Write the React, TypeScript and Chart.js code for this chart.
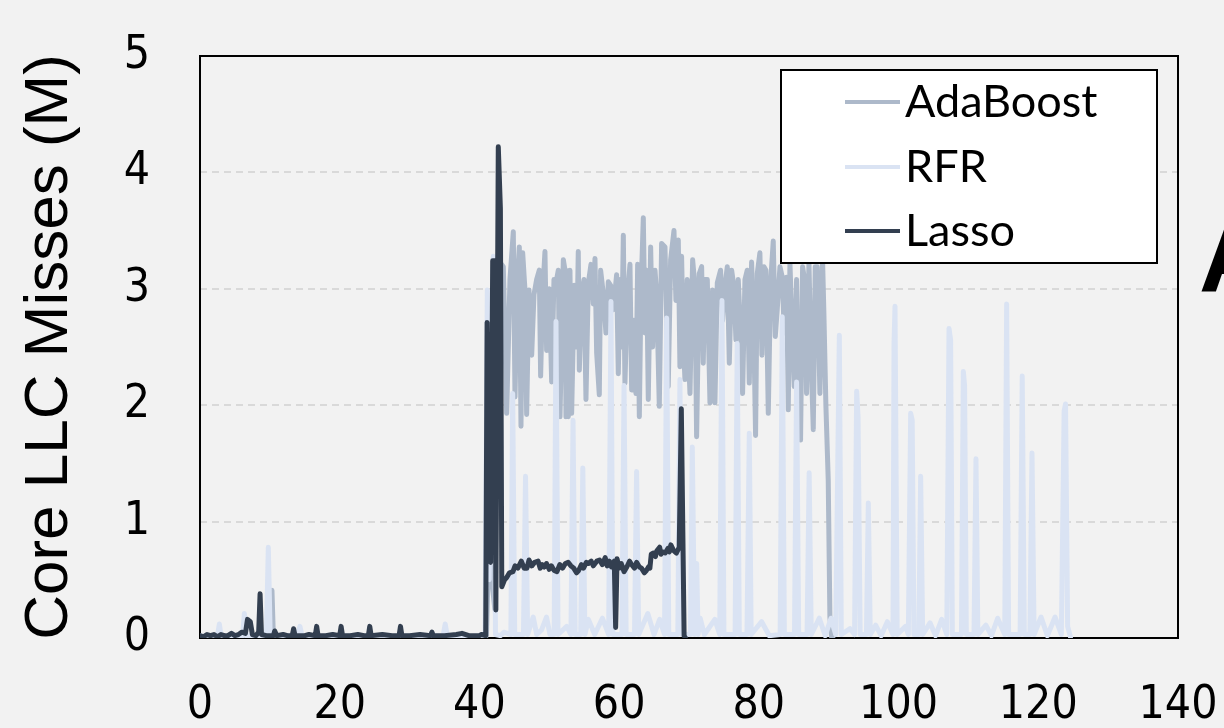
import { useEffect, useRef } from 'react';
import { Chart, registerables } from 'chart.js';

Chart.register(...registerables);

const seriesNames = ['AdaBoost', 'RFR', 'Lasso'];
const seriesColors = ['#adb9ca', '#dae3f3', '#333f50'];
const yTickValues = [0, 1, 2, 3, 4, 5];
const xTickValues = [0, 20, 40, 60, 80, 100, 120, 140];
const yTitle = 'Core LLC Misses (M)';

const adaboost: [number, number][] = [
  [0, 0.01], [5, 0.01], [9.9, 0.01], [10.1, 0.1], [10.3, 0.41], [10.5, 0.02], [15, 0.01], [20, 0.01],
  [25, 0.01], [30, 0.01], [35, 0.01], [40, 0.01], [41.0, 0.02], [41.3, 0.67], [41.6, 0.6], [42.2, 0.25],
  [42.6, 2.95], [42.94, 3.0], [43.18, 3.21], [43.42, 3.19], [43.9, 1.93], [44.37, 3.08], [44.85, 3.49],
  [45.09, 2.07], [45.42, 3.05], [45.71, 3.36], [45.95, 1.82], [46.19, 3.31], [46.52, 2.99], [46.76, 1.92],
  [47.09, 2.99], [47.48, 2.43], [47.81, 2.95], [48.19, 3.08], [48.57, 3.16], [48.76, 2.25], [49.05, 2.96],
  [49.38, 3.32], [49.62, 2.47], [50.0, 3.0], [50.34, 2.2], [50.67, 3.08], [50.96, 3.05], [51.29, 3.16],
  [51.53, 1.9], [52.01, 3.25], [52.25, 3.16], [52.39, 1.9], [52.55, 3.0], [52.72, 1.9], [52.96, 3.16],
  [53.2, 1.93], [53.58, 3.03], [53.92, 2.5], [54.15, 3.32], [54.3, 2.3], [54.63, 2.96], [54.97, 3.08],
  [55.25, 2.05], [55.59, 3.05], [55.97, 3.21], [56.3, 2.87], [56.54, 3.26], [56.78, 2.45], [57.16, 2.09],
  [57.35, 3.16], [57.73, 2.96], [58.11, 2.62], [58.45, 3.06], [58.78, 3.03], [59.16, 2.82], [59.64, 3.12],
  [59.88, 2.27], [60.12, 3.08], [60.36, 2.5], [60.6, 3.46], [60.83, 2.19], [61.17, 2.93], [61.55, 3.21],
  [61.79, 2.13], [62.12, 2.73], [62.41, 2.1], [62.65, 3.21], [62.89, 1.9], [63.12, 2.96], [63.46, 3.61],
  [63.7, 2.62], [63.94, 3.16], [64.17, 2.05], [64.51, 3.36], [64.79, 2.5], [65.13, 3.16], [65.37, 2.96],
  [65.75, 1.99], [66.08, 3.39], [66.56, 3.36], [67.03, 2.16], [67.37, 3.25], [67.85, 3.5], [68.13, 2.9],
  [68.47, 3.42], [68.7, 2.33], [68.94, 3.28], [69.18, 2.56], [69.42, 2.22], [69.75, 3.08], [69.9, 2.47],
  [70.14, 2.1], [70.52, 3.25], [70.85, 3.02], [71.09, 1.73], [71.47, 3.13], [71.81, 3.19], [72.04, 2.36],
  [72.28, 3.08], [72.62, 3.08], [73.0, 2.02], [73.38, 2.99], [73.71, 2.02], [74.05, 3.05], [74.52, 3.16],
  [74.81, 2.73], [75.14, 3.02], [75.48, 3.19], [75.77, 2.36], [76.1, 3.16], [76.43, 3.02], [76.72, 2.56],
  [77.05, 3.08], [77.39, 2.62], [77.67, 2.1], [78.01, 3.08], [78.34, 3.16], [78.63, 2.19], [78.96, 3.23],
  [79.3, 2.56], [79.53, 1.74], [79.77, 3.13], [80.15, 3.31], [80.44, 2.43], [80.73, 3.19], [81.01, 3.16],
  [81.35, 1.93], [81.68, 3.05], [82.06, 3.41], [82.35, 2.59], [82.63, 2.82], [83.02, 3.19], [83.35, 3.1],
  [83.64, 2.62], [83.97, 3.1], [84.21, 1.96], [84.45, 3.22], [84.78, 2.62], [85.07, 2.16], [85.4, 3.08],
  [85.64, 2.19], [85.97, 1.7], [86.26, 3.19], [86.6, 3.05], [86.83, 2.1], [87.17, 3.22], [87.45, 2.47],
  [87.79, 1.79], [88.07, 3.19], [88.36, 3.19], [88.74, 2.1], [89.12, 3.25], [89.31, 2.79], [89.6, 1.99],
  [89.93, 1.36], [90.17, 0.18], [90.41, 0.01], [90.6, 0.01],
];

const rfr: [number, number][] = [
  [0, 0.02], [1, 0.01], [2.5, 0.02], [2.77, 0.12], [3.0, 0.02], [4.5, 0.01], [6.1, 0.02], [6.35, 0.21],
  [6.6, 0.02], [9.5, 0.02], [9.78, 0.78], [10.05, 0.02], [12, 0.01], [14.0, 0.04], [14.3, 0.1], [14.6, 0.02],
  [18, 0.01], [22, 0.02], [26, 0.01], [30, 0.02], [34.8, 0.02], [35.1, 0.12], [35.4, 0.02], [38, 0.01],
  [40.8, 0.02], [41.13, 2.99], [41.4, 0.5], [41.99, 3.28], [42.3, 0.03], [43, 0.02], [43.5, 0.05],
  [44.5, 0.03], [44.76, 2.1], [45.05, 0.03], [46.3, 0.03], [46.6, 1.39], [46.9, 0.03], [47.7, 0.18],
  [48.2, 0.03], [48.9, 0.07], [49.6, 0.18], [50.1, 0.03], [50.7, 0.03], [50.96, 2.72], [51.25, 0.03],
  [52.5, 0.1], [53.1, 0.03], [53.4, 1.87], [53.7, 0.03], [54.5, 0.03], [54.8, 1.46], [55.1, 0.03],
  [55.6, 0.16], [56.5, 0.03], [57.6, 0.17], [58.5, 0.03], [58.83, 2.89], [59.1, 0.03], [60.4, 0.03],
  [60.7, 2.17], [61.0, 0.03], [62.2, 0.03], [62.5, 1.43], [62.8, 0.03], [64.1, 0.21], [65.0, 0.03],
  [65.8, 0.16], [66.5, 0.03], [66.8, 2.75], [67.1, 0.03], [68.4, 0.03], [68.7, 2.22], [69.0, 0.03],
  [70.2, 0.03], [70.47, 1.64], [70.8, 0.03], [71.1, 0.64], [71.3, 0.03], [71.6, 0.17], [72.2, 0.03],
  [73.7, 0.16], [74.4, 0.03], [74.72, 2.9], [75.0, 0.03], [76.6, 0.03], [76.9, 2.53], [77.2, 0.03],
  [78.3, 0.03], [78.63, 1.76], [78.9, 0.03], [80.4, 0.14], [81.5, 0.02], [83.05, 0.03], [83.35, 2.76],
  [83.65, 0.03], [85.1, 0.03], [85.4, 2.2], [85.7, 0.03], [86.9, 0.03], [87.2, 1.42], [87.5, 0.03],
  [88.66, 0.17], [89.5, 0.02], [90.33, 0.17], [91.0, 0.03], [91.52, 2.6], [91.8, 0.03], [93.05, 0.08],
  [93.7, 0.03], [94.0, 2.12], [94.2, 1.9], [94.5, 0.03], [95.4, 0.03], [95.67, 1.16], [95.95, 0.03],
  [96.72, 0.11], [97.5, 0.02], [98.39, 0.14], [99.2, 0.03], [99.35, 2.53], [99.49, 2.85], [99.8, 0.03],
  [101.0, 0.1], [101.4, 0.03], [101.73, 1.93], [101.95, 1.87], [102.2, 0.03], [102.9, 0.03], [103.16, 1.39],
  [103.45, 0.03], [104.5, 0.13], [105.3, 0.02], [106.17, 0.16], [106.9, 0.03], [107.22, 2.66], [107.45, 2.56],
  [107.7, 0.03], [109.0, 0.03], [109.27, 2.29], [109.45, 2.17], [109.7, 0.03], [110.8, 0.03], [111.08, 1.54],
  [111.35, 0.03], [112.5, 0.11], [113.3, 0.02], [114.18, 0.17], [115.2, 0.03], [115.47, 2.87], [115.75, 0.03],
  [116.8, 0.03], [117.4, 0.03], [117.7, 2.25], [118.0, 0.03], [118.8, 0.03], [119.1, 1.59], [119.4, 0.03],
  [120.4, 0.18], [121.3, 0.02], [122.4, 0.18], [123.3, 0.03], [123.7, 1.95], [123.9, 2.01], [124.2, 0.1],
  [124.6, 0.01],
];

const lasso: [number, number][] = [
  [0, 0.02], [0.5, 0.01], [1, 0.03], [1.5, 0.02], [2, 0.03], [2.5, 0.01], [3, 0.03], [3.5, 0.02], [4, 0.02],
  [4.5, 0.04], [5, 0.02], [5.5, 0.03], [6, 0.05], [6.5, 0.04], [6.8, 0.16], [7.2, 0.14], [7.5, 0.03], [8, 0.02],
  [8.4, 0.05], [8.6, 0.38], [8.8, 0.03], [9.5, 0.02], [10.5, 0.02], [10.7, 0.06], [11, 0.02], [11.9, 0.03],
  [12.5, 0.02], [13.2, 0.02], [13.4, 0.08], [13.6, 0.02], [15, 0.02], [15.6, 0.03], [16.5, 0.02], [16.7, 0.1],
  [16.9, 0.02], [18, 0.02], [19, 0.03], [20, 0.02], [20.2, 0.1], [20.4, 0.02], [21.5, 0.02], [22.6, 0.03],
  [23.5, 0.02], [24.1, 0.02], [24.3, 0.1], [24.5, 0.02], [26.1, 0.03], [27.5, 0.02], [28.5, 0.02], [28.7, 0.1],
  [28.9, 0.02], [30, 0.02], [31.5, 0.03], [33, 0.02], [33.2, 0.05], [33.4, 0.02], [35, 0.02], [36.7, 0.03],
  [37.5, 0.04], [38.5, 0.02], [40, 0.02], [40.3, 0.03], [40.9, 0.02], [41.1, 2.71], [41.35, 0.67],
  [41.6, 0.65], [41.9, 3.24], [42.2, 3.24], [42.35, 0.24], [42.7, 4.22], [43.0, 3.69], [43.2, 0.44],
  [43.6, 0.5], [43.9, 0.52], [44.3, 0.56], [44.8, 0.57], [45.1, 0.62], [45.5, 0.6], [46.0, 0.66], [46.4, 0.6],
  [46.8, 0.6], [47.1, 0.67], [47.5, 0.62], [47.9, 0.65], [48.4, 0.66], [48.7, 0.6], [49.0, 0.63], [49.3, 0.61],
  [49.6, 0.64], [50.0, 0.59], [50.3, 0.62], [50.7, 0.58], [51.1, 0.57], [51.5, 0.63], [51.9, 0.6], [52.3, 0.64],
  [52.7, 0.65], [53.1, 0.62], [53.5, 0.6], [53.9, 0.56], [54.2, 0.58], [54.6, 0.63], [54.9, 0.6], [55.3, 0.65],
  [55.6, 0.64], [56.0, 0.66], [56.3, 0.62], [56.8, 0.66], [57.2, 0.67], [57.6, 0.63], [58.0, 0.69],
  [58.3, 0.62], [58.6, 0.66], [58.9, 0.61], [59.3, 0.66], [59.5, 0.09], [59.7, 0.68], [60.0, 0.6],
  [60.3, 0.64], [60.7, 0.57], [61.1, 0.61], [61.5, 0.66], [61.8, 0.63], [62.2, 0.6], [62.5, 0.65],
  [62.9, 0.61], [63.2, 0.6], [63.6, 0.56], [63.9, 0.58], [64.2, 0.61], [64.4, 0.6], [64.6, 0.72], [64.9, 0.73],
  [65.2, 0.7], [65.4, 0.75], [65.8, 0.78], [66.0, 0.72], [66.2, 0.74], [66.6, 0.73], [67.0, 0.77], [67.2, 0.74],
  [67.4, 0.8], [67.8, 0.75], [68.2, 0.73], [68.6, 0.78], [68.9, 1.97], [69.3, 0.02], [69.5, 0.0],
];

const seriesData = [adaboost, rfr, lasso];

function clearScalePadding(scale: any) {
  scale.paddingTop = 0;
  scale.paddingBottom = 0;
  scale.paddingLeft = 0;
  scale.paddingRight = 0;
}

export default function App() {
  const ref = useRef<HTMLCanvasElement | null>(null);

  useEffect(() => {
    const canvas = ref.current;
    if (!canvas) return;

    const bgPlugin = {
      id: 'bgPlugin',
      beforeDraw(chart: any) {
        const ctx = chart.ctx;
        ctx.save();
        ctx.fillStyle = '#f2f2f2';
        ctx.fillRect(0, 0, chart.width, chart.height);
        ctx.restore();
      },
      beforeDatasetsDraw(chart: any) {
        const { left, top, right, bottom } = chart.chartArea;
        const ctx = chart.ctx;
        ctx.save();
        ctx.strokeStyle = '#000000';
        ctx.lineWidth = 2;
        ctx.strokeRect(left, top, right - left, bottom - top);
        ctx.restore();
      },
      afterDraw(chart: any) {
        const ctx = chart.ctx;
        ctx.save();
        const bx = 781, by = 70, bw = 376, bh = 193;
        ctx.fillStyle = '#ffffff';
        ctx.fillRect(bx, by, bw, bh);
        ctx.strokeStyle = '#000000';
        ctx.lineWidth = 2;
        ctx.strokeRect(bx, by, bw, bh);
        const rowsY = [102, 167, 231];
        ctx.font = '45px Lato';
        ctx.textBaseline = 'alphabetic';
        ctx.textAlign = 'left';
        seriesNames.forEach((name, i) => {
          ctx.strokeStyle = seriesColors[i];
          ctx.lineWidth = 4;
          ctx.beginPath();
          ctx.moveTo(845, rowsY[i]);
          ctx.lineTo(900, rowsY[i]);
          ctx.stroke();
          ctx.fillStyle = '#000000';
          ctx.fillText(name, 905, rowsY[i] + 15);
        });
        ctx.font = 'bold 100px "Liberation Sans"';
        ctx.fillStyle = '#000000';
        ctx.fillText('A', 1199, 292);
        ctx.restore();
      },
    };

    const tickFont = { family: '"DejaVu Sans Condensed", "Liberation Sans"', size: 46 };

    const chart = new Chart(canvas, {
      type: 'line',
      data: {
        datasets: seriesNames.map((name, i) => ({
          label: name,
          data: seriesData[i].map(([x, y]) => ({ x, y })),
          borderColor: seriesColors[i],
          backgroundColor: seriesColors[i],
          borderWidth: 5,
          pointRadius: 0,
          tension: 0,
          fill: false,
          borderJoinStyle: 'round' as const,
          borderCapStyle: 'round' as const,
          order: i === 2 ? 0 : i === 1 ? 1 : 2,
        })),
      },
      options: {
        animation: false,
        responsive: false,
        devicePixelRatio: 1,
        layout: { padding: { top: 56, right: 46, left: 0, bottom: 0 } },
        plugins: {
          legend: { display: false },
          tooltip: { enabled: false },
        },
        scales: {
          x: {
            type: 'linear',
            min: 0,
            max: 140,
            afterFit(scale: any) {
              scale.height = 90;
              clearScalePadding(scale);
            },
            afterBuildTicks(scale: any) {
              scale.ticks = xTickValues.map((v) => ({ value: v }));
            },
            grid: { display: false },
            border: { display: false },
            ticks: {
              padding: 32,
              maxRotation: 0,
              autoSkip: false,
              color: '#000000',
              font: tickFont,
            },
          },
          y: {
            type: 'linear',
            min: 0,
            max: 5,
            afterFit(scale: any) {
              scale.width = 200;
              clearScalePadding(scale);
            },
            afterBuildTicks(scale: any) {
              scale.ticks = yTickValues.map((v) => ({ value: v }));
            },
            grid: {
              drawTicks: false,
              lineWidth: 2,
              color: (ctx: any) =>
                ctx.tick && (ctx.tick.value === 0 || ctx.tick.value === 5) ? 'rgba(0,0,0,0)' : '#d9d9d9',
            },
            border: { display: false, dash: [7, 5] },
            ticks: {
              padding: 50,
              color: '#000000',
              font: tickFont,
            },
            title: {
              display: true,
              text: yTitle,
              color: '#000000',
              font: { family: '"Liberation Sans"', size: 62 },
              padding: { top: 13, bottom: 0 },
            },
          },
        },
      },
      plugins: [bgPlugin],
    });

    return () => chart.destroy();
  }, []);

  return (
    <div style={{ position: 'fixed', left: 0, top: 0, width: 1224, height: 728 }}>
      <canvas ref={ref} width={1224} height={728} style={{ width: 1224, height: 728, display: 'block' }} />
    </div>
  );
}
